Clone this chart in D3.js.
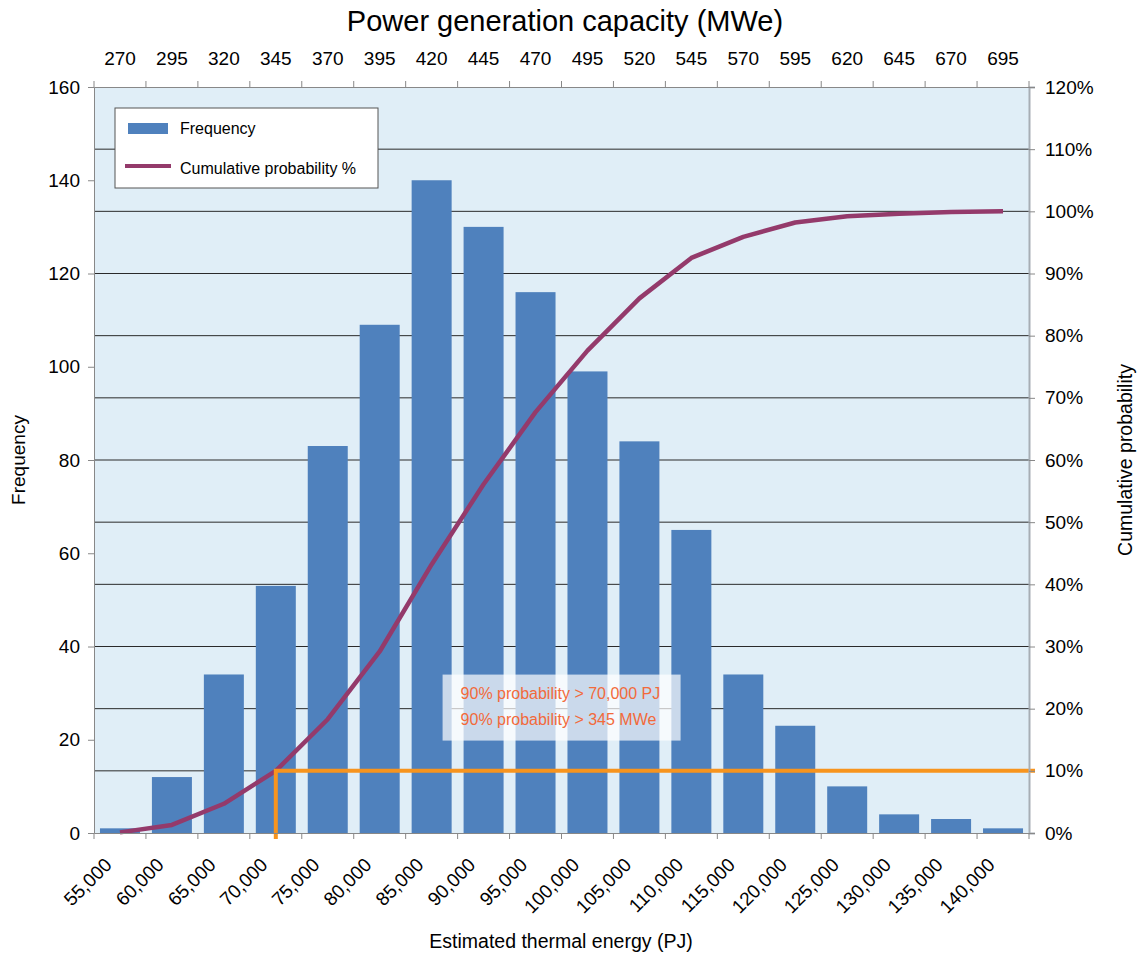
<!DOCTYPE html>
<html>

<head>
    <meta charset="UTF-8" />
    <title>frequency chart</title>
    <style>
        body {
            margin: 0;
            padding: 0;
            background: #fff;
            font-family: 'Liberation Sans', Arial, sans-serif;
        }
    </style>
</head>

<body>
    <div class="container"></div>

    <script src="https://cdnjs.cloudflare.com/ajax/libs/d3/7.8.5/d3.min.js"></script>
    <script>
        // data
        const categories = ['55,000', '60,000', '65,000', '70,000', '75,000', '80,000', '85,000', '90,000', '95,000',
            '100,000', '105,000', '110,000', '115,000', '120,000', '125,000', '130,000', '135,000', '140,000'];
        const mweLabels = [270, 295, 320, 345, 370, 395, 420, 445, 470, 495, 520, 545, 570, 595, 620, 645, 670, 695];
        const frequency = [1, 12, 34, 53, 83, 109, 140, 130, 116, 99, 84, 65, 34, 23, 10, 4, 3, 1];
        const cumulative = [0.1, 1.3, 4.7, 10.0, 18.3, 29.2, 43.2, 56.1, 67.7, 77.6, 86.0, 92.5, 95.9, 98.2, 99.2, 99.6, 99.9, 100];
        const freqTicks = [0, 20, 40, 60, 80, 100, 120, 140, 160];
        const pctTicks = [0, 10, 20, 30, 40, 50, 60, 70, 80, 90, 100, 110, 120];
        const threshold = { pct: 10, index: 3 };
        const notes = ['90% probability > 70,000 PJ', '90% probability > 345 MWe'];

        const W = 1141, H = 956;
        const margin = { top: 87, right: 112, bottom: 123, left: 94 };
        const width = W - margin.left - margin.right;
        const height = H - margin.top - margin.bottom;

        const root = d3.select('.container').append('svg')
            .attr('width', W)
            .attr('height', H)
            .style('display', 'block')

        const svg = root.append('g')
            .attr('transform', `translate(${margin.left},${margin.top})`)

        const x = d3.scaleBand().domain(categories).range([0, width])
            .paddingInner(0.23).paddingOuter(0.115)
        const xTop = d3.scaleBand().domain(mweLabels).range([0, width])
            .paddingInner(0.23).paddingOuter(0.115)
        const xEdge = d3.scaleLinear().domain([0, categories.length]).range([0, width])
        const yL = d3.scaleLinear().domain([0, 160]).range([height, 0])
        const yR = d3.scaleLinear().domain([0, 120]).range([height, 0])

        // plot background
        svg.append('rect')
            .attr('width', width)
            .attr('height', height)
            .attr('fill', '#e0eef7')

        // grid lines follow the right axis
        svg.append('g').selectAll('line')
            .data(pctTicks.filter(d => d > 0 && d < 120))
            .join('line')
            .attr('x1', 0).attr('x2', width)
            .attr('y1', d => yR(d)).attr('y2', d => yR(d))
            .attr('stroke', '#2a2a2a')
            .attr('stroke-width', 1)

        // bars
        svg.append('g').selectAll('rect')
            .data(frequency)
            .join('rect')
            .attr('x', (d, i) => x(categories[i]))
            .attr('y', d => yL(d))
            .attr('width', x.bandwidth())
            .attr('height', d => height - yL(d))
            .attr('fill', '#4f81bd')

        // cumulative line
        const lineGen = d3.line()
            .x((d, i) => x(categories[i]) + x.bandwidth() / 2)
            .y(d => yR(d))

        svg.append('path')
            .attr('d', lineGen(cumulative))
            .attr('fill', 'none')
            .attr('stroke', '#943a6b')
            .attr('stroke-width', 4.5)
            .attr('stroke-linejoin', 'round')

        // 90% threshold marker
        const tx = x(categories[threshold.index]) + x.bandwidth() / 2;
        svg.append('path')
            .attr('d', `M${tx},${yR(0) + 6}V${yR(threshold.pct)}H${width + 6}`)
            .attr('fill', 'none')
            .attr('stroke', '#f7941e')
            .attr('stroke-width', 4)

        // annotation box
        const note = svg.append('g')
            .attr('transform', `translate(${x(categories[7]) - 21},${yR(25) - 3})`)
        note.append('rect')
            .attr('width', 238)
            .attr('height', 66)
            .attr('fill', '#fff')
            .attr('opacity', 0.7)
        note.selectAll('text')
            .data(notes)
            .join('text')
            .attr('x', 18)
            .attr('y', (d, i) => 24 + i * 26)
            .attr('font-size', 16)
            .attr('fill', '#f26a3a')
            .text(d => d)

        // axes
        const styleAxis = (g, size) => {
            g.selectAll('text').attr('font-size', size).attr('fill', '#000')
                .style('font-family', "'Liberation Sans', Arial, sans-serif")
            g.selectAll('.tick line').attr('stroke', '#888')
        }

        const leftAxis = svg.append('g')
            .call(d3.axisLeft(yL).tickValues(freqTicks).tickSize(6).tickPadding(8))
        leftAxis.select('.domain').attr('stroke', '#888')
        styleAxis(leftAxis, 19)

        const rightAxis = svg.append('g')
            .attr('transform', `translate(${width},0)`)
            .call(d3.axisRight(yR).tickValues(pctTicks).tickSize(6).tickPadding(10).tickFormat(d => d + '%'))
        rightAxis.select('.domain').attr('stroke', '#a7aeb5').attr('stroke-width', 2)
        styleAxis(rightAxis, 19)

        // bottom: ticks at band edges, labels rotated
        const bottomAxis = svg.append('g')
            .attr('transform', `translate(0,${height})`)
            .call(d3.axisBottom(x).tickSize(0))
        bottomAxis.select('.domain').attr('stroke', '#888')
        bottomAxis.selectAll('text')
            .attr('y', 0).attr('dy', 0)
            .attr('text-anchor', 'end')
            .attr('transform', 'translate(-7,33) rotate(-45)')
        styleAxis(bottomAxis, 19)
        svg.append('g').selectAll('line')
            .data(d3.range(categories.length + 1))
            .join('line')
            .attr('x1', d => xEdge(d)).attr('x2', d => xEdge(d))
            .attr('y1', height).attr('y2', height + 6)
            .attr('stroke', '#888')

        // top: MWe labels
        const topAxis = svg.append('g')
            .call(d3.axisTop(xTop).tickSize(0).tickPadding(22))
        topAxis.select('.domain').attr('stroke', '#888')
        styleAxis(topAxis, 19)
        svg.append('g').selectAll('line')
            .data(d3.range(categories.length + 1))
            .join('line')
            .attr('x1', d => xEdge(d)).attr('x2', d => xEdge(d))
            .attr('y1', 0).attr('y2', -6)
            .attr('stroke', '#888')

        // legend
        const legend = svg.append('g').attr('transform', 'translate(21,21)')
        legend.append('rect')
            .attr('width', 263).attr('height', 80)
            .attr('fill', '#fff')
            .attr('stroke', '#555')
        legend.append('rect')
            .attr('x', 13).attr('y', 15).attr('width', 40).attr('height', 11)
            .attr('fill', '#4f81bd')
        legend.append('line')
            .attr('x1', 10).attr('x2', 56).attr('y1', 58).attr('y2', 58)
            .attr('stroke', '#943a6b').attr('stroke-width', 4)
        legend.selectAll('text')
            .data(['Frequency', 'Cumulative probability %'])
            .join('text')
            .attr('x', 65)
            .attr('y', (d, i) => 26 + i * 40)
            .attr('font-size', 16)
            .text(d => d)

        // titles
        root.append('text')
            .attr('x', 565).attr('y', 31)
            .attr('text-anchor', 'middle')
            .attr('font-size', 29)
            .text('Power generation capacity (MWe)')

        root.append('text')
            .attr('x', 561).attr('y', 948)
            .attr('text-anchor', 'middle')
            .attr('font-size', 19.5)
            .text('Estimated thermal energy (PJ)')

        root.append('text')
            .attr('transform', `translate(25,${margin.top + height / 2}) rotate(-90)`)
            .attr('text-anchor', 'middle')
            .attr('font-size', 19)
            .text('Frequency')

        root.append('text')
            .attr('transform', `translate(1132,${margin.top + height / 2}) rotate(-90)`)
            .attr('text-anchor', 'middle')
            .attr('font-size', 19.5)
            .text('Cumulative probability')
    </script>
</body>

</html>
